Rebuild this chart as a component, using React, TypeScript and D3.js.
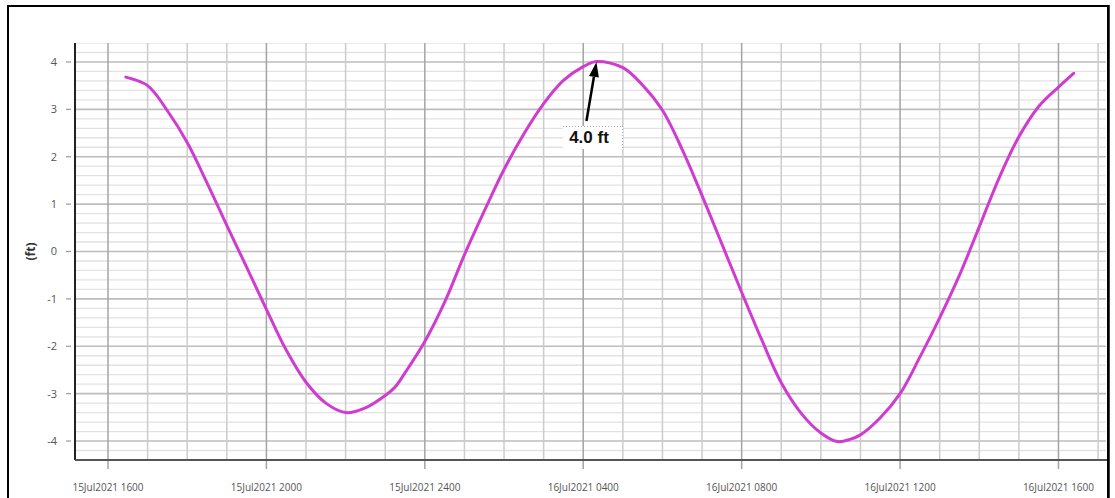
import React from "react";
import * as d3 from "d3";

// ---- data ----
const times: string[] = [
  "2021-07-15 16:27", "2021-07-15 17:00", "2021-07-15 17:30", "2021-07-15 18:00",
  "2021-07-15 18:30", "2021-07-15 19:00", "2021-07-15 19:30", "2021-07-15 20:00",
  "2021-07-15 20:30", "2021-07-15 21:00", "2021-07-15 21:30", "2021-07-15 22:00",
  "2021-07-15 22:30", "2021-07-15 23:00", "2021-07-15 23:15", "2021-07-15 23:30",
  "2021-07-16 00:00", "2021-07-16 00:30", "2021-07-16 01:00", "2021-07-16 01:30",
  "2021-07-16 02:00", "2021-07-16 02:30", "2021-07-16 03:00", "2021-07-16 03:30",
  "2021-07-16 04:00", "2021-07-16 04:20", "2021-07-16 05:00", "2021-07-16 05:30",
  "2021-07-16 06:00", "2021-07-16 06:30", "2021-07-16 07:00", "2021-07-16 07:30",
  "2021-07-16 08:00", "2021-07-16 08:30", "2021-07-16 09:00", "2021-07-16 09:30",
  "2021-07-16 10:00", "2021-07-16 10:25", "2021-07-16 10:45", "2021-07-16 11:00",
  "2021-07-16 11:30", "2021-07-16 12:00", "2021-07-16 12:30", "2021-07-16 13:00",
  "2021-07-16 13:30", "2021-07-16 14:00", "2021-07-16 14:30", "2021-07-16 15:00",
  "2021-07-16 15:30", "2021-07-16 16:00", "2021-07-16 16:23",
];
const tideFt: number[] = [
  3.68, 3.50, 2.97, 2.30,
  1.45, 0.55, -0.33, -1.22,
  -2.08, -2.76, -3.20, -3.40,
  -3.30, -3.04, -2.86, -2.56,
  -1.90, -1.07, -0.07, 0.85,
  1.73, 2.48, 3.12, 3.61,
  3.90, 4.01, 3.88, 3.51,
  2.98, 2.15, 1.18, 0.16,
  -0.86, -1.85, -2.77, -3.41,
  -3.83, -4.01, -3.96, -3.87,
  -3.51, -3.00, -2.23, -1.40,
  -0.50, 0.52, 1.55, 2.42,
  3.06, 3.47, 3.76,
];
const xTickTimes: string[] = [
  "2021-07-15 16:00", "2021-07-15 20:00", "2021-07-16 00:00",
  "2021-07-16 04:00", "2021-07-16 08:00", "2021-07-16 12:00", "2021-07-16 16:00",
];
const xTickLabels: string[] = [
  "15Jul2021 1600", "15Jul2021 2000", "15Jul2021 2400",
  "16Jul2021 0400", "16Jul2021 0800", "16Jul2021 1200", "16Jul2021 1600",
];
const yTicks: number[] = [4, 3, 2, 1, 0, -1, -2, -3, -4];
const yLabel = "(ft)";
const peakLabel = "4.0 ft";
const peakTime = "2021-07-16 04:20";
const peakValue = 4.0;
const xDomain: string[] = ["2021-07-15 15:10", "2021-07-16 17:12"];
const yDomain: number[] = [-4.4, 4.4];

const parse = d3.timeParse("%Y-%m-%d %H:%M");

export default function App() {
  const W = 1115, H = 498;
  const left = 75, right = 1106, top = 43, bottom = 460;

  const x = d3.scaleTime()
    .domain(xDomain.map((s) => parse(s) as Date))
    .range([left, right]);
  const y = d3.scaleLinear().domain(yDomain).range([bottom, top]);

  const data = times.map((t, i) => ({ t: parse(t) as Date, v: tideFt[i] }));
  const line = d3.line<{ t: Date; v: number }>()
    .x((d) => x(d.t))
    .y((d) => y(d.v))
    .curve(d3.curveCatmullRom.alpha(0.5));

  const hourly = d3.timeHour.range(x.domain()[0], x.domain()[1]);
  const majorSet = new Set(xTickTimes.map((s) => (parse(s) as Date).getTime()));
  const minorY = d3.range(-22, 23).map((k) => k / 5);

  const px = x(parse(peakTime) as Date);
  const py = y(peakValue);
  const tailX = px - 10, tailY = 121;
  const ang = Math.atan2(py - tailY, px - tailX);
  const headLen = 15, headW = 5;
  const bx = px - headLen * Math.cos(ang), by = py - headLen * Math.sin(ang);
  const nx = -Math.sin(ang), ny = Math.cos(ang);

  return (
    <svg width={W} height={H} style={{ position: "absolute", left: 0, top: 0, background: "#fff" }}
      fontFamily="'Open Sans', 'DejaVu Sans', sans-serif">
      <defs>
        <clipPath id="plotclip">
          <rect x={left} y={top} width={1107 - left} height={bottom - top + 12} />
        </clipPath>
      </defs>
      <g clipPath="url(#plotclip)">
        {minorY.map((v) => {
          const isMajor = Math.abs(v - Math.round(v)) < 1e-6;
          return (
            <line key={"h" + v} x1={left} x2={right} y1={y(v)} y2={y(v)}
              stroke={isMajor ? "#bdbdbd" : "#e2e2e2"} strokeWidth={isMajor ? 1.6 : 1.3} />
          );
        })}
        {hourly.map((d) => {
          const isMajor = majorSet.has(d.getTime());
          return (
            <line key={"v" + d.getTime()} x1={x(d)} x2={x(d)} y1={top} y2={isMajor ? bottom + 9 : bottom}
              stroke={isMajor ? "#a4a4a4" : "#cccccc"} strokeWidth={1.5} />
          );
        })}
      </g>
      {/* axes */}
      <line x1={left} x2={left} y1={top} y2={bottom} stroke="#222" strokeWidth={2} />
      <line x1={left} x2={1107} y1={bottom} y2={bottom} stroke="#555" strokeWidth={2} />
      {yTicks.map((v) => (
        <g key={"yt" + v}>
          <line x1={66} x2={71} y1={y(v)} y2={y(v)} stroke="#999" strokeWidth={1.2} />
          <text x={57} y={y(v)} dy="0.35em" textAnchor="end" fontSize={11} fill="#555">{v}</text>
        </g>
      ))}
      {xTickTimes.map((s, i) => (
        <text key={"xt" + s} x={x(parse(s) as Date)} y={491} textAnchor="middle" fontSize={10}
          fill="#555">{xTickLabels[i]}</text>
      ))}
      <text transform={`translate(35,${(top + bottom) / 2}) rotate(-90)`} textAnchor="middle"
        fontSize={12} fontWeight="bold" fill="#333">{yLabel}</text>

      {/* tide curve */}
      <path d={line(data) || ""} fill="none" stroke="#cf3ccf" strokeWidth={3}
        strokeLinejoin="round" strokeLinecap="round" />

      {/* annotation */}
      <rect x={563} y={126} width={60} height={23} fill="#fff" />
      <line x1={563} x2={623} y1={126.5} y2={126.5} stroke="#aaa" strokeWidth={1} strokeDasharray="1,2" />
      <line x1={622.5} x2={622.5} y1={126} y2={149} stroke="#aaa" strokeWidth={1} strokeDasharray="1,2" />
      <line x1={tailX} y1={tailY} x2={bx} y2={by} stroke="#000" strokeWidth={2.5} />
      <path d={`M${px},${py} L${bx + nx * headW},${by + ny * headW} L${bx - nx * headW},${by - ny * headW} Z`}
        fill="#000" />
      <text x={589} y={143} textAnchor="middle" fontSize={17} fontWeight="bold" fill="#111"
        fontFamily="'Liberation Sans', Arial, sans-serif">{peakLabel}</text>

      {/* outer frame */}
      <rect x={8} y={6} width={1100} height={510} fill="none" stroke="#000" strokeWidth={2} />
      <line x1={1108.5} x2={1108.5} y1={5} y2={498} stroke="#000" strokeWidth={2.5} />
    </svg>
  );
}
